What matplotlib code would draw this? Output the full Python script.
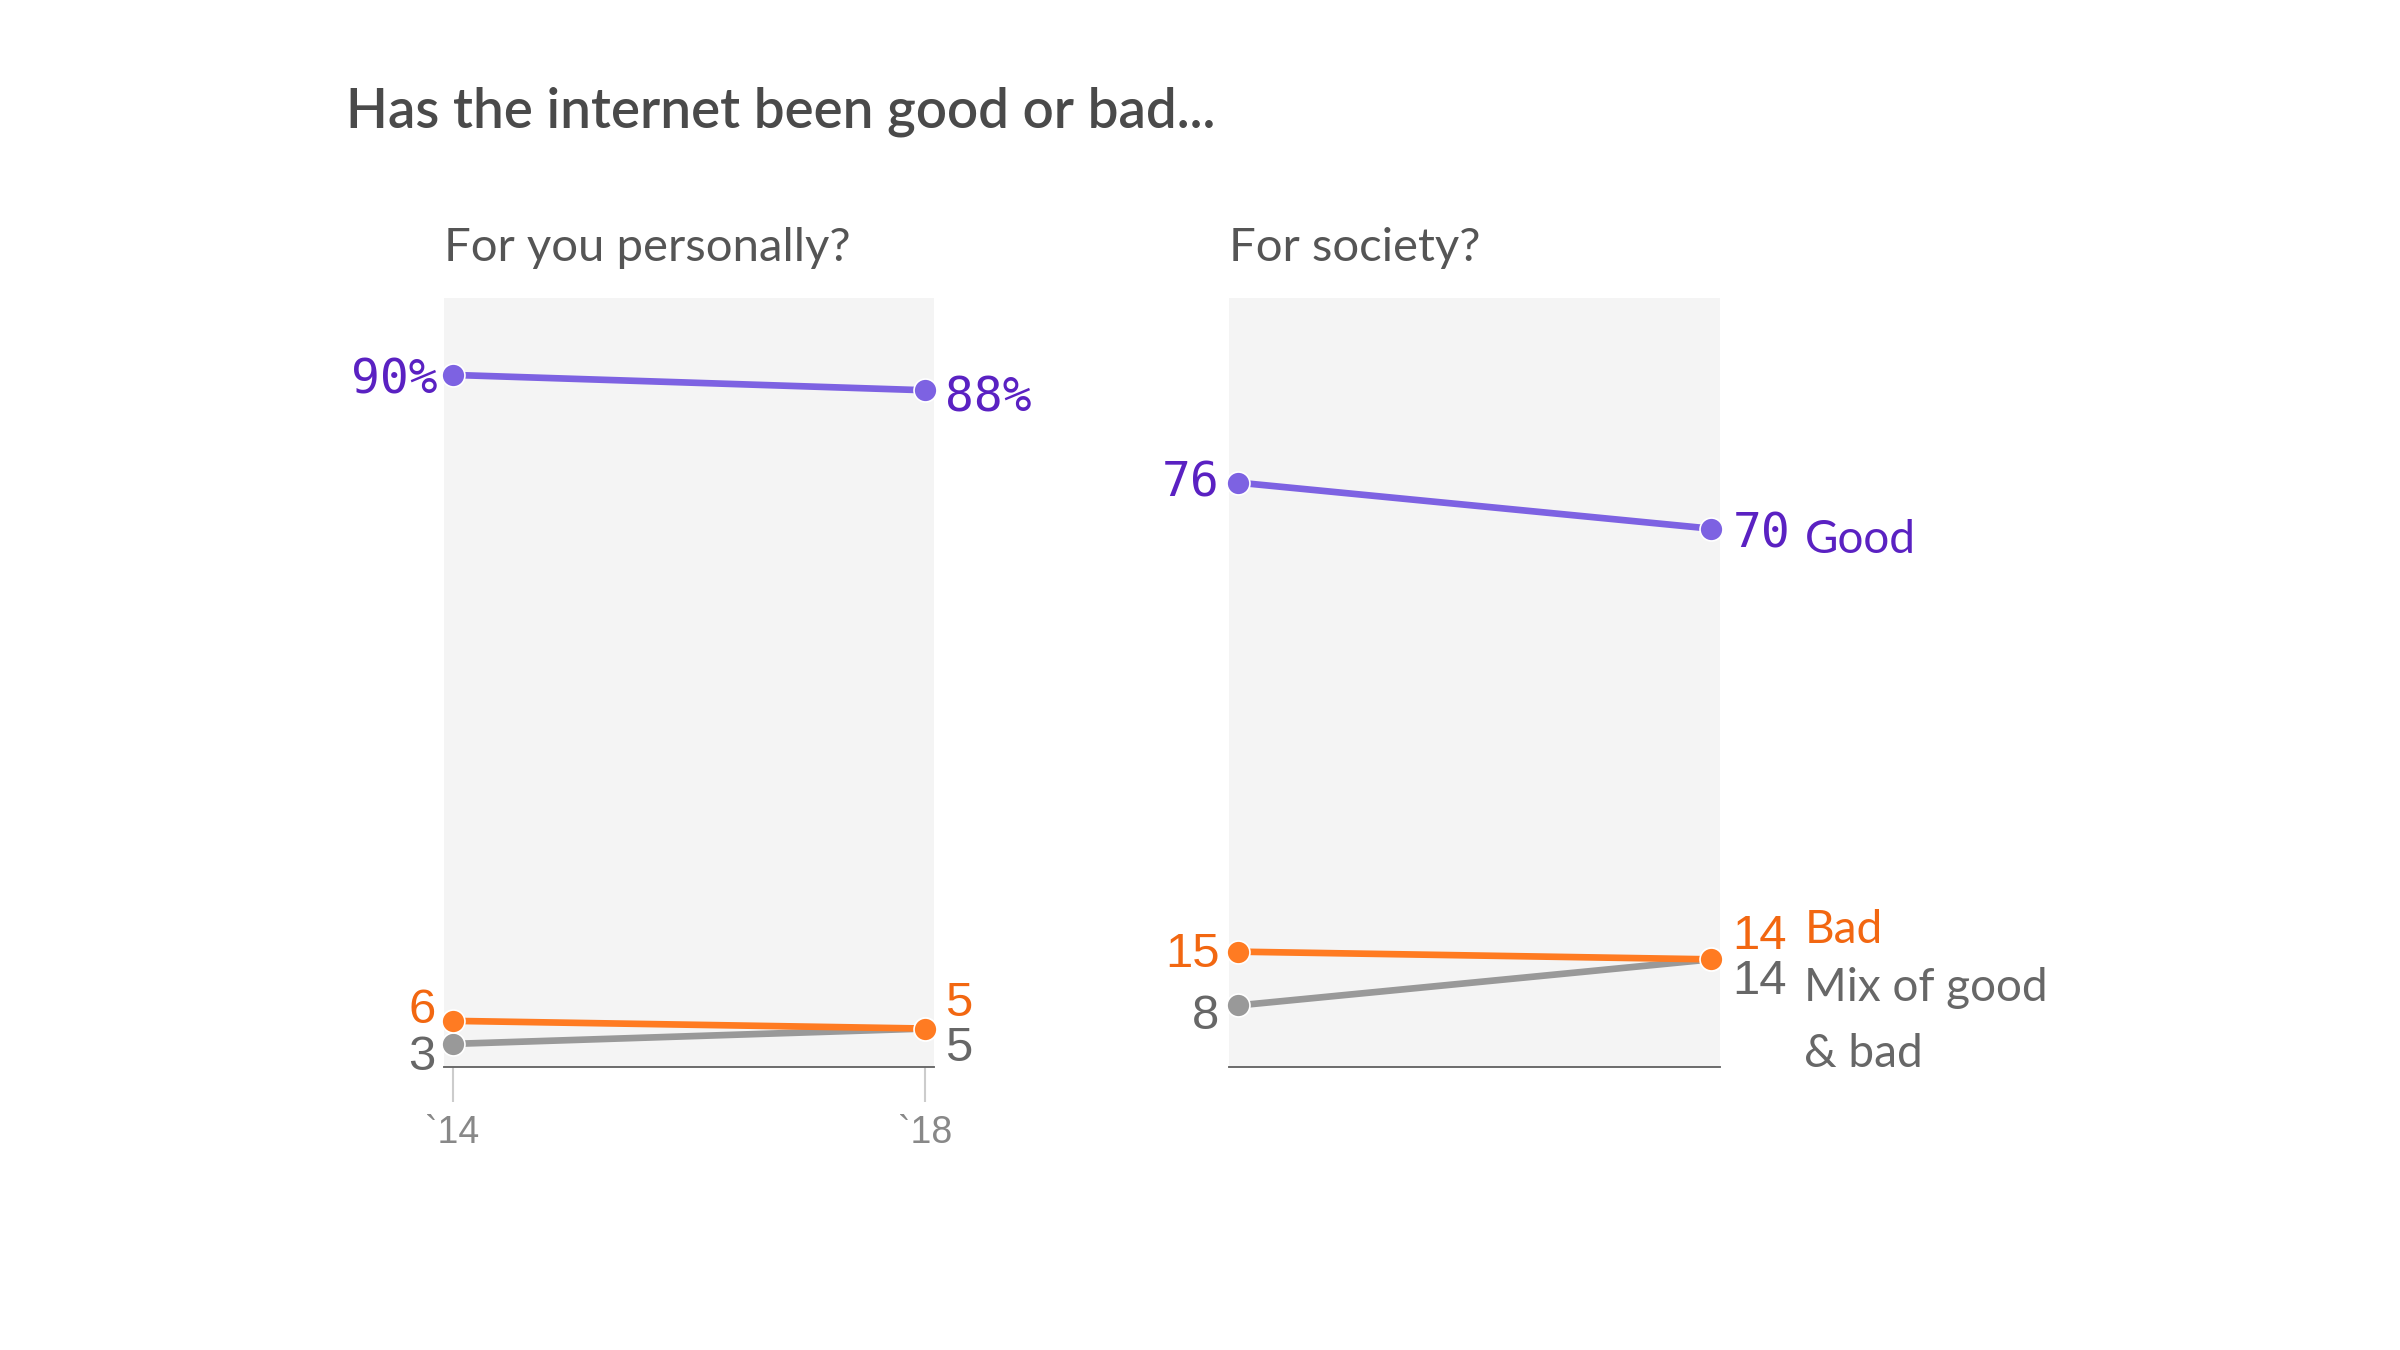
import matplotlib
matplotlib.use("Agg")
import matplotlib.pyplot as plt
from matplotlib import font_manager as fm

# ---- data ----
years = ["`14", "`18"]
personal_good = [90, 88]
personal_bad = [6, 5]
personal_mix = [3, 5]
society_good = [76, 70]
society_bad = [15, 14]
society_mix = [8, 14]

title = "Has the internet been good or bad..."
subtitles = ["For you personally?", "For society?"]
series_names = ["Good", "Bad", "Mix of good", "& bad"]

available = {f.name for f in fm.fontManager.ttflist}
def pick(*names):
    for n in names:
        if n in available:
            return n
    return "DejaVu Sans"

SANS = pick("Lato", "Open Sans", "DejaVu Sans")
NUM = pick("Liberation Sans Narrow", "Liberation Sans", "DejaVu Sans")
MONO = pick("DejaVu Sans Mono", "Liberation Mono")

PUR_LINE = "#7d62e2"
PUR_TEXT = "#5a21c2"
ORG_LINE = "#ff7b22"
ORG_TEXT = "#f26711"
GRY_LINE = "#999999"
GRY_TEXT = "#676767"
BG = "#f4f4f4"

fig = plt.figure(figsize=(16, 9), dpi=150)
fig.patch.set_facecolor("white")

W, H = 2400, 1350
def rect(x0, x1, ytop, ybot):
    return [x0 / W, 1 - ybot / H, (x1 - x0) / W, (ybot - ytop) / H]

ax1 = fig.add_axes(rect(444, 934, 298, 1067))
ax2 = fig.add_axes(rect(1229, 1720, 298, 1067))

xs = [0, 1]
for ax in (ax1, ax2):
    ax.set_facecolor(BG)
    ax.set_xlim(-0.018, 1.018)
    ax.set_ylim(0, 100)
    for s in ("top", "left", "right"):
        ax.spines[s].set_visible(False)
    ax.spines["bottom"].set_color("#666666")
    ax.spines["bottom"].set_linewidth(0.9)
    ax.set_yticks([])

def draw(ax, good, bad, mix):
    kw = dict(lw=3.2, marker="o", ms=11, mec="white", mew=0.8, solid_capstyle="butt", clip_on=False)
    ax.plot(xs, mix, color=GRY_LINE, zorder=3, **kw)
    ax.plot(xs, bad, color=ORG_LINE, zorder=4, **kw)
    ax.plot(xs, good, color=PUR_LINE, zorder=5, **kw)

draw(ax1, personal_good, personal_bad, personal_mix)
draw(ax2, society_good, society_bad, society_mix)

# x ticks on left panel only
ax1.set_xticks(xs)
ax1.set_xticklabels(years, fontfamily=NUM, fontsize=18, color="#888888")
ax1.tick_params(axis="x", length=17, width=1.0, color="#cccccc", pad=6)
ax2.set_xticks([])

def lab(ax, x, y, s, color, family, size, dx, dy, ha, weight="normal"):
    ax.annotate(s, (x, y), xytext=(dx, dy), textcoords="offset pixels",
                ha=ha, va="center", color=color, fontfamily=family,
                fontsize=size, fontweight=weight, annotation_clip=False, zorder=6)

# left panel labels
lab(ax1, 0, personal_good[0], f"{personal_good[0]}%", PUR_TEXT, MONO, 23, -15, -5, "right")
lab(ax1, 1, personal_good[1], f"{personal_good[1]}%", PUR_TEXT, MONO, 23, 20, -8, "left")
lab(ax1, 0, personal_bad[0], f"{personal_bad[0]}", ORG_TEXT, NUM, 23.5, -17, 10, "right")
lab(ax1, 0, personal_mix[0], f"{personal_mix[0]}", GRY_TEXT, NUM, 23.5, -17, -14, "right")
lab(ax1, 1, personal_bad[1], f"{personal_bad[1]}", ORG_TEXT, NUM, 23.5, 20, 25, "left")
lab(ax1, 1, personal_mix[1], f"{personal_mix[1]}", GRY_TEXT, NUM, 23.5, 20, -20, "left")

# right panel labels
lab(ax2, 0, society_good[0], f"{society_good[0]}", PUR_TEXT, MONO, 23, -18, 0, "right")
lab(ax2, 1, society_good[1], f"{society_good[1]}", PUR_TEXT, MONO, 23, 21, -5, "left")
lab(ax2, 0, society_bad[0], f"{society_bad[0]}", ORG_TEXT, NUM, 23.5, -18, -3, "right")
lab(ax2, 0, society_mix[0], f"{society_mix[0]}", GRY_TEXT, NUM, 23.5, -18, -11, "right")
lab(ax2, 1, society_bad[1], f"{society_bad[1]}", ORG_TEXT, NUM, 23.5, 21, 23, "left")
lab(ax2, 1, society_mix[1], f"{society_mix[1]}", GRY_TEXT, NUM, 23.5, 21, -22, "left")

lab(ax2, 1, society_good[1], series_names[0], PUR_TEXT, SANS, 22, 93, -11, "left")
lab(ax2, 1, society_bad[1], series_names[1], ORG_TEXT, SANS, 22, 93, 29, "left")
lab(ax2, 1, society_mix[1], series_names[2], GRY_TEXT, SANS, 22, 93, -29, "left")
lab(ax2, 1, society_mix[1], series_names[3], GRY_TEXT, SANS, 22, 93, -95, "left")

fig.text(346 / W, 1 - 112 / H, title, ha="left", va="center", fontfamily=SANS,
         fontsize=26.3, fontweight="semibold", color="#4a4a4a")
fig.text(444 / W, 1 - 248 / H, subtitles[0], ha="left", va="center", fontfamily=SANS,
         fontsize=22.7, color="#555555")
fig.text(1229 / W, 1 - 248 / H, subtitles[1], ha="left", va="center", fontfamily=SANS,
         fontsize=22.7, color="#555555")

fig.savefig("out.png", dpi=150, facecolor="white")
